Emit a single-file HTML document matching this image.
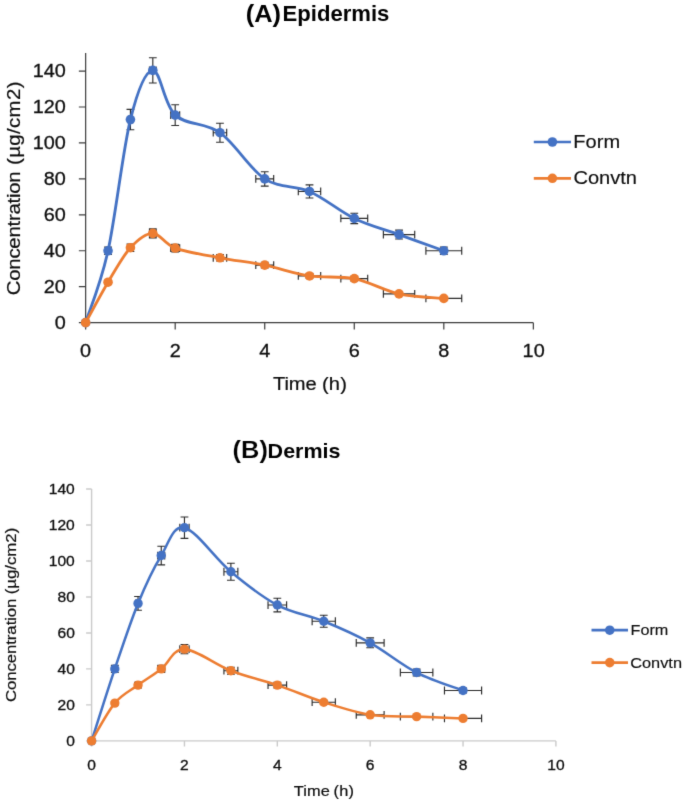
<!DOCTYPE html>
<html lang="en">
<head>
<meta charset="utf-8">
<title>Epidermis and Dermis concentration-time profiles</title>
<style>
html,body{margin:0;padding:0;background:#fff;}
body{width:685px;height:804px;overflow:hidden;}
svg{display:block;font-family:"Liberation Sans",sans-serif;}
</style>
</head>
<body>
<svg width="685" height="804" viewBox="0 0 685 804">
<defs><filter id="soft" x="0" y="0" width="685" height="804" filterUnits="userSpaceOnUse" color-interpolation-filters="sRGB"><feConvolveMatrix order="3" kernelMatrix="0.0113 0.0838 0.0113 0.0838 0.6193 0.0838 0.0113 0.0838 0.0113" edgeMode="duplicate" preserveAlpha="true"/></filter></defs>
<g filter="url(#soft)">
<rect width="685" height="804" fill="#fff"/>
<g id="chartA">
<path class="axis" d="M85.65,53.1V322.65H533.35M78.85,322.65h6.8M78.85,286.71h6.8M78.85,250.77h6.8M78.85,214.83h6.8M78.85,178.89h6.8M78.85,142.95h6.8M78.85,107.01h6.8M78.85,71.07h6.8M85.65,322.65v6.8M175.19,322.65v6.8M264.73,322.65v6.8M354.27,322.65v6.8M443.81,322.65v6.8M533.35,322.65v6.8" stroke="#3c3c3c" stroke-width="1.2" fill="none"/>
<g class="ticklabels" fill="#0d0d0d" stroke="#0d0d0d" stroke-width="0.3">
<text transform="translate(54.75,328.65) scale(1.0450,1)" font-size="19">0</text>
<text transform="translate(43.71,292.71) scale(1.0450,1)" font-size="19">20</text>
<text transform="translate(43.71,256.77) scale(1.0450,1)" font-size="19">40</text>
<text transform="translate(43.71,220.83) scale(1.0450,1)" font-size="19">60</text>
<text transform="translate(43.71,184.89) scale(1.0450,1)" font-size="19">80</text>
<text transform="translate(32.67,148.95) scale(1.0450,1)" font-size="19">100</text>
<text transform="translate(32.67,113.01) scale(1.0450,1)" font-size="19">120</text>
<text transform="translate(32.67,77.07) scale(1.0450,1)" font-size="19">140</text>
<text transform="translate(80.11,357.4) scale(1.0450,1)" font-size="19">0</text>
<text transform="translate(169.65,357.4) scale(1.0450,1)" font-size="19">2</text>
<text transform="translate(259.24,357.4) scale(1.0450,1)" font-size="19">4</text>
<text transform="translate(348.68,357.4) scale(1.0450,1)" font-size="19">6</text>
<text transform="translate(438.27,357.4) scale(1.0450,1)" font-size="19">8</text>
<text transform="translate(522.62,357.4) scale(1.0450,1)" font-size="19">10</text>
</g>
<path class="errorbars" d="M106.92,250.77H109.15M106.92,246.87v7.8M109.15,246.87v7.8M108.04,247.18V254.36M104.14,247.18h7.8M104.14,254.36h7.8M128.18,119.59H132.66M128.18,115.69v7.8M132.66,115.69v7.8M130.42,109.44V129.74M126.52,109.44h7.8M126.52,129.74h7.8M149.45,70.35H156.16M149.45,66.45v7.8M156.16,66.45v7.8M152.81,57.74V82.97M148.91,57.74h7.8M148.91,82.97h7.8M170.71,115.1H179.67M170.71,111.2v7.8M179.67,111.2v7.8M175.19,104.72V125.47M171.29,104.72h7.8M171.29,125.47h7.8M213.24,132.71H226.68M213.24,128.81v7.8M226.68,128.81v7.8M219.96,123.21V142.2M216.06,123.21h7.8M216.06,142.2h7.8M255.78,178.89H273.68M255.78,174.99v7.8M273.68,174.99v7.8M264.73,171.7V186.08M260.83,171.7h7.8M260.83,186.08h7.8M298.31,191.47H320.69M298.31,187.57v7.8M320.69,187.57v7.8M309.5,184.91V198.03M305.6,184.91h7.8M305.6,198.03h7.8M340.84,218.42H367.7M340.84,214.52v7.8M367.7,214.52v7.8M354.27,213.21V223.64M350.37,213.21h7.8M350.37,223.64h7.8M383.37,234.6H414.71M383.37,230.7v7.8M414.71,230.7v7.8M399.04,230.19V239M395.14,230.19h7.8M395.14,239h7.8M425.9,250.77H461.72M425.9,246.87v7.8M461.72,246.87v7.8M443.81,247.18V254.36M439.91,247.18h7.8M439.91,254.36h7.8M106.92,282.22H109.15M106.92,278.32v7.8M109.15,278.32v7.8M108.04,280.2V284.24M104.14,280.2h7.8M104.14,284.24h7.8M128.18,247.72H132.66M128.18,243.82v7.8M132.66,243.82v7.8M130.42,243.97V251.46M126.52,243.97h7.8M126.52,251.46h7.8M149.45,233.34H156.16M149.45,229.44v7.8M156.16,229.44v7.8M152.81,228.87V237.8M148.91,228.87h7.8M148.91,237.8h7.8M170.71,248.07H179.67M170.71,244.17v7.8M179.67,244.17v7.8M175.19,244.35V251.8M171.29,244.35h7.8M171.29,251.8h7.8M213.24,257.78H226.68M213.24,253.88v7.8M226.68,253.88v7.8M219.96,254.53V261.02M216.06,254.53h7.8M216.06,261.02h7.8M255.78,265.15H273.68M255.78,261.25v7.8M273.68,261.25v7.8M264.73,262.27V268.02M260.83,262.27h7.8M260.83,268.02h7.8M298.31,275.93H320.69M298.31,272.03v7.8M320.69,272.03v7.8M309.5,273.59V278.26M305.6,273.59h7.8M305.6,278.26h7.8M340.84,278.62H367.7M340.84,274.72v7.8M367.7,274.72v7.8M354.27,276.42V280.82M350.37,276.42h7.8M350.37,280.82h7.8M383.37,293.9H414.71M383.37,290v7.8M414.71,290v7.8M399.04,292.46V295.34M395.14,292.46h7.8M395.14,295.34h7.8M425.9,298.39H461.72M425.9,294.49v7.8M461.72,294.49v7.8M443.81,297.18V299.6M439.91,297.18h7.8M439.91,299.6h7.8" stroke="#2b2b2b" stroke-width="1.15" fill="none"/>
<g class="series" fill="#4472C4">
<path d="M85.65,322.65C89.38,310.67 100.57,284.62 108.04,250.77C115.5,216.92 122.96,149.66 130.42,119.59C137.88,89.51 145.34,71.1 152.81,70.35C160.27,69.6 164,104.7 175.19,115.1C186.38,125.49 205.03,122.07 219.96,132.71C234.89,143.34 249.8,169.09 264.73,178.89C279.66,188.69 294.57,184.88 309.5,191.47C324.43,198.06 339.34,211.23 354.27,218.42C369.2,225.61 384.11,229.2 399.04,234.6C413.97,239.99 436.35,248.07 443.81,250.77" stroke="#4472C4" stroke-width="2.85" fill="none" stroke-linecap="round" stroke-linejoin="round"/>
<circle cx="85.65" cy="322.65" r="4.8"/>
<circle cx="108.04" cy="250.77" r="4.8"/>
<circle cx="130.42" cy="119.59" r="4.8"/>
<circle cx="152.81" cy="70.35" r="4.8"/>
<circle cx="175.19" cy="115.1" r="4.8"/>
<circle cx="219.96" cy="132.71" r="4.8"/>
<circle cx="264.73" cy="178.89" r="4.8"/>
<circle cx="309.5" cy="191.47" r="4.8"/>
<circle cx="354.27" cy="218.42" r="4.8"/>
<circle cx="399.04" cy="234.6" r="4.8"/>
<circle cx="443.81" cy="250.77" r="4.8"/>
</g>
<g class="series" fill="#ED7D31">
<path d="M85.65,322.65C89.38,315.91 100.57,294.71 108.04,282.22C115.5,269.73 122.96,255.86 130.42,247.72C137.88,239.57 145.34,233.28 152.81,233.34C160.27,233.4 164,244 175.19,248.07C186.38,252.15 205.03,254.93 219.96,257.78C234.89,260.62 249.8,262.12 264.73,265.15C279.66,268.17 294.57,273.68 309.5,275.93C324.43,278.17 339.34,275.63 354.27,278.62C369.2,281.62 384.11,290.6 399.04,293.9C413.97,297.19 436.35,297.64 443.81,298.39" stroke="#ED7D31" stroke-width="2.85" fill="none" stroke-linecap="round" stroke-linejoin="round"/>
<circle cx="85.65" cy="322.65" r="4.8"/>
<circle cx="108.04" cy="282.22" r="4.8"/>
<circle cx="130.42" cy="247.72" r="4.8"/>
<circle cx="152.81" cy="233.34" r="4.8"/>
<circle cx="175.19" cy="248.07" r="4.8"/>
<circle cx="219.96" cy="257.78" r="4.8"/>
<circle cx="264.73" cy="265.15" r="4.8"/>
<circle cx="309.5" cy="275.93" r="4.8"/>
<circle cx="354.27" cy="278.62" r="4.8"/>
<circle cx="399.04" cy="293.9" r="4.8"/>
<circle cx="443.81" cy="298.39" r="4.8"/>
</g>
<g class="legend" fill="#0d0d0d" stroke="#0d0d0d" stroke-width="0.15">
<path d="M533.8,142H571" stroke="#4472C4" stroke-width="2.7"/>
<circle cx="552.4" cy="142" r="4.8" fill="#4472C4" stroke="none"/>
<text transform="translate(573.36,148.1) scale(1.1003,1)" font-size="18.2">Form</text>
<path d="M533.8,178.3H571" stroke="#ED7D31" stroke-width="2.7"/>
<circle cx="552.4" cy="178.3" r="4.8" fill="#ED7D31" stroke="none"/>
<text transform="translate(573.41,184.1) scale(1.1034,1)" font-size="18.2">Convtn</text>
</g>
<g class="axistitles" fill="#0d0d0d" stroke="#0d0d0d" stroke-width="0.2">
<text transform="translate(273.4,389.5) scale(1.1000,1)" font-size="18.3"><tspan x="-0.4" letter-spacing="-0.088">Time</tspan> <tspan x="44.08" letter-spacing="0.232">(h)</tspan></text>
<text transform="translate(20.2,294.2) rotate(-90) scale(1.1000,1)" font-size="18.5"><tspan x="-0.9" letter-spacing="-0.220">Concentration</tspan> <tspan x="117.54" letter-spacing="0.348">(µg/cm2)</tspan></text>
</g>
<g class="title" fill="#000">
<text transform="translate(245.77,22) scale(1.0259,1)" font-size="24.8" font-weight="bold">(A)</text>
<text transform="translate(282.58,21.2) scale(1.0138,1)" font-size="21.8" font-weight="bold">Epidermis</text>
</g>
</g>
<g id="chartB">
<path class="axis" d="M91.6,488.97V740.9H555.9M86.1,740.9h5.5M86.1,704.91h5.5M86.1,668.92h5.5M86.1,632.93h5.5M86.1,596.94h5.5M86.1,560.95h5.5M86.1,524.96h5.5M86.1,488.97h5.5M91.6,740.9v5.5M184.46,740.9v5.5M277.32,740.9v5.5M370.18,740.9v5.5M463.04,740.9v5.5M555.9,740.9v5.5" stroke="#CACACA" stroke-width="1.4" fill="none"/>
<g class="ticklabels" fill="#0d0d0d" stroke="#0d0d0d" stroke-width="0.3">
<text transform="translate(66.14,746.2) scale(1.0200,1)" font-size="15.3">0</text>
<text transform="translate(57.46,710.21) scale(1.0200,1)" font-size="15.3">20</text>
<text transform="translate(57.46,674.22) scale(1.0200,1)" font-size="15.3">40</text>
<text transform="translate(57.46,638.23) scale(1.0200,1)" font-size="15.3">60</text>
<text transform="translate(57.46,602.24) scale(1.0200,1)" font-size="15.3">80</text>
<text transform="translate(48.78,566.25) scale(1.0200,1)" font-size="15.3">100</text>
<text transform="translate(48.78,530.26) scale(1.0200,1)" font-size="15.3">120</text>
<text transform="translate(48.78,494.27) scale(1.0200,1)" font-size="15.3">140</text>
<text transform="translate(87.27,769.7) scale(1.0200,1)" font-size="15.3">0</text>
<text transform="translate(180.12,769.7) scale(1.0200,1)" font-size="15.3">2</text>
<text transform="translate(273.04,769.7) scale(1.0200,1)" font-size="15.3">4</text>
<text transform="translate(365.79,769.7) scale(1.0200,1)" font-size="15.3">6</text>
<text transform="translate(458.7,769.7) scale(1.0200,1)" font-size="15.3">8</text>
<text transform="translate(547.32,769.7) scale(1.0200,1)" font-size="15.3">10</text>
</g>
<path class="errorbars" d="M113.65,668.92H115.98M113.65,665.02v7.8M115.98,665.02v7.8M114.81,665.32V672.52M110.91,665.32h7.8M110.91,672.52h7.8M135.71,603.42H140.35M135.71,599.52v7.8M140.35,599.52v7.8M138.03,596.54V610.29M134.13,596.54h7.8M134.13,610.29h7.8M157.76,555.55H164.73M157.76,551.65v7.8M164.73,551.65v7.8M161.25,546.28V564.82M157.34,546.28h7.8M157.34,564.82h7.8M179.82,527.66H189.1M179.82,523.76v7.8M189.1,523.76v7.8M184.46,517V538.32M180.56,517h7.8M180.56,538.32h7.8M223.93,571.75H237.85M223.93,567.85v7.8M237.85,567.85v7.8M230.89,563.29V580.2M226.99,563.29h7.8M226.99,580.2h7.8M268.03,605.04H286.61M268.03,601.14v7.8M286.61,601.14v7.8M277.32,598.24V611.83M273.42,598.24h7.8M273.42,611.83h7.8M312.14,621.23H335.36M312.14,617.33v7.8M335.36,617.33v7.8M323.75,615.25V627.22M319.85,615.25h7.8M319.85,627.22h7.8M356.25,642.83H384.11M356.25,638.93v7.8M384.11,638.93v7.8M370.18,637.92V647.73M366.28,637.92h7.8M366.28,647.73h7.8M400.36,672.52H432.86M400.36,668.62v7.8M432.86,668.62v7.8M416.61,669.1V675.94M412.71,669.1h7.8M412.71,675.94h7.8M444.47,690.51H481.61M444.47,686.61v7.8M481.61,686.61v7.8M463.04,687.99V693.03M459.14,687.99h7.8M459.14,693.03h7.8M113.65,703.11H115.98M113.65,699.21v7.8M115.98,699.21v7.8M114.81,701.22V705M110.91,701.22h7.8M110.91,705h7.8M135.71,685.12H140.35M135.71,681.22v7.8M140.35,681.22v7.8M138.03,682.33V687.9M134.13,682.33h7.8M134.13,687.9h7.8M157.76,668.92H164.73M157.76,665.02v7.8M164.73,665.02v7.8M161.25,665.32V672.52M157.34,665.32h7.8M157.34,672.52h7.8M179.82,649.13H189.1M179.82,645.23v7.8M189.1,645.23v7.8M184.46,644.54V653.71M180.56,644.54h7.8M180.56,653.71h7.8M223.93,670.72H237.85M223.93,666.82v7.8M237.85,666.82v7.8M230.89,667.21V674.23M226.99,667.21h7.8M226.99,674.23h7.8M268.03,685.12H286.61M268.03,681.22v7.8M286.61,681.22v7.8M277.32,682.33V687.9M273.42,682.33h7.8M273.42,687.9h7.8M312.14,702.21H335.36M312.14,698.31v7.8M335.36,698.31v7.8M323.75,700.28V704.15M319.85,700.28h7.8M319.85,704.15h7.8M356.25,714.81H384.11M356.25,710.91v7.8M384.11,710.91v7.8M370.18,713.5V716.11M366.28,713.5h7.8M366.28,716.11h7.8M400.36,716.61H432.86M400.36,712.71v7.8M432.86,712.71v7.8M416.61,715.39V717.82M412.71,715.39h7.8M412.71,717.82h7.8M444.47,718.41H481.61M444.47,714.51v7.8M481.61,714.51v7.8M463.04,717.28V719.53M459.14,717.28h7.8M459.14,719.53h7.8" stroke="#2b2b2b" stroke-width="1.15" fill="none"/>
<g class="series" fill="#4472C4">
<path d="M91.6,740.9C95.47,728.9 107.08,691.84 114.81,668.92C122.55,646 130.29,622.32 138.03,603.42C145.77,584.52 153.51,568.18 161.25,555.55C168.98,542.92 172.85,524.96 184.46,527.66C196.07,530.36 215.41,558.85 230.89,571.75C246.37,584.65 261.84,596.79 277.32,605.04C292.8,613.29 308.27,614.93 323.75,621.23C339.23,627.53 354.7,634.28 370.18,642.83C385.66,651.38 401.13,664.57 416.61,672.52C432.09,680.47 455.3,687.51 463.04,690.51" stroke="#4472C4" stroke-width="2.55" fill="none" stroke-linecap="round" stroke-linejoin="round"/>
<circle cx="91.6" cy="740.9" r="4.7"/>
<circle cx="114.81" cy="668.92" r="4.7"/>
<circle cx="138.03" cy="603.42" r="4.7"/>
<circle cx="161.25" cy="555.55" r="4.7"/>
<circle cx="184.46" cy="527.66" r="4.7"/>
<circle cx="230.89" cy="571.75" r="4.7"/>
<circle cx="277.32" cy="605.04" r="4.7"/>
<circle cx="323.75" cy="621.23" r="4.7"/>
<circle cx="370.18" cy="642.83" r="4.7"/>
<circle cx="416.61" cy="672.52" r="4.7"/>
<circle cx="463.04" cy="690.51" r="4.7"/>
</g>
<g class="series" fill="#ED7D31">
<path d="M91.6,740.9C95.47,734.6 107.08,712.41 114.81,703.11C122.55,693.81 130.29,690.82 138.03,685.12C145.77,679.42 153.51,674.92 161.25,668.92C168.98,662.92 172.85,648.83 184.46,649.13C196.07,649.43 215.41,664.72 230.89,670.72C246.37,676.72 261.84,679.87 277.32,685.12C292.8,690.37 308.27,697.26 323.75,702.21C339.23,707.16 354.7,712.41 370.18,714.81C385.66,717.21 401.13,716.01 416.61,716.61C432.09,717.21 455.3,718.11 463.04,718.41" stroke="#ED7D31" stroke-width="2.55" fill="none" stroke-linecap="round" stroke-linejoin="round"/>
<circle cx="91.6" cy="740.9" r="4.7"/>
<circle cx="114.81" cy="703.11" r="4.7"/>
<circle cx="138.03" cy="685.12" r="4.7"/>
<circle cx="161.25" cy="668.92" r="4.7"/>
<circle cx="184.46" cy="649.13" r="4.7"/>
<circle cx="230.89" cy="670.72" r="4.7"/>
<circle cx="277.32" cy="685.12" r="4.7"/>
<circle cx="323.75" cy="702.21" r="4.7"/>
<circle cx="370.18" cy="714.81" r="4.7"/>
<circle cx="416.61" cy="716.61" r="4.7"/>
<circle cx="463.04" cy="718.41" r="4.7"/>
</g>
<g class="legend" fill="#0d0d0d" stroke="#0d0d0d" stroke-width="0.15">
<path d="M591.5,630.2H628" stroke="#4472C4" stroke-width="2.7"/>
<circle cx="609.75" cy="630.2" r="4.8" fill="#4472C4" stroke="none"/>
<text transform="translate(630.49,635.4) scale(1.0957,1)" font-size="14.8">Form</text>
<path d="M591.5,662.6H628" stroke="#ED7D31" stroke-width="2.7"/>
<circle cx="609.75" cy="662.6" r="4.8" fill="#ED7D31" stroke="none"/>
<text transform="translate(630.23,667.5) scale(1.1047,1)" font-size="14.8">Convtn</text>
</g>
<g class="axistitles" fill="#0d0d0d" stroke="#0d0d0d" stroke-width="0.2">
<text transform="translate(294.1,796.1) scale(1.1200,1)" font-size="14.6"><tspan x="-0.3" letter-spacing="0.089">Time</tspan> <tspan x="35.26" letter-spacing="0.173">(h)</tspan></text>
<text transform="translate(16.4,701.3) rotate(-90) scale(1.1200,1)" font-size="15"><tspan x="-0.7" letter-spacing="-0.071">Concentration</tspan> <tspan x="95.53" letter-spacing="-0.001">(µg/cm2)</tspan></text>
</g>
<g class="title" fill="#000">
<text transform="translate(232.6,457.8) scale(1.0902,1)" font-size="23.3" font-weight="bold" stroke="#fff" stroke-width="0.15" stroke-linejoin="round">(B)</text>
<text transform="translate(267.62,458) scale(1.0593,1)" font-size="20.3" font-weight="bold">Dermis</text>
</g>
</g>
</g>
</svg>
</body>
</html>
